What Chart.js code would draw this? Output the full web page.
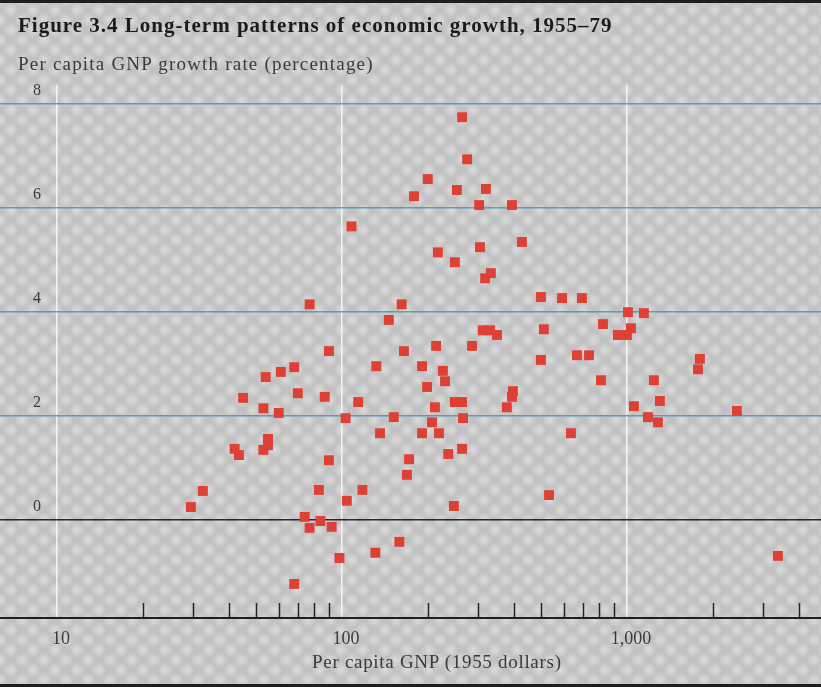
<!DOCTYPE html>
<html>
<head>
<meta charset="utf-8">
<script src="https://cdn.jsdelivr.net/npm/chart.js@4.4.0/dist/chart.umd.min.js"></script>
<style>
html,body{margin:0;padding:0;}
body{width:821px;height:687px;position:relative;overflow:hidden;
  background-color:#c1c1c1;
  background-image:
    radial-gradient(circle at center, rgba(255,255,255,0.42) 0, rgba(255,255,255,0) 8px),
    radial-gradient(circle at center, rgba(255,255,255,0.42) 0, rgba(255,255,255,0) 8px);
  background-size:22px 20px;
  background-position:0 0, 11px 10px;}
#wrap{position:absolute;left:0;top:0;width:821px;height:687px;}
.t{position:absolute;font-family:"Liberation Serif",serif;white-space:nowrap;}
#title{left:18px;top:15px;font-size:21px;line-height:21px;font-weight:bold;letter-spacing:1px;color:#1b1b1b;}
#sub{left:18px;top:54px;font-size:19px;line-height:19px;letter-spacing:1.2px;color:#3a3a3a;}
#xtitle{left:312px;top:652px;font-size:19px;line-height:19px;letter-spacing:0.7px;color:#3a3a3a;}
.bar{position:absolute;left:0;width:821px;background:#1e1e1e;}
</style>
</head>
<body>
<div id="wrap"><canvas id="c"></canvas></div>
<div class="bar" style="top:0;height:3px;"></div>
<div class="bar" style="top:684px;height:3px;"></div>
<div class="t" id="title">Figure 3.4 Long-term patterns of economic growth, 1955–79</div>
<div class="t" id="sub">Per capita GNP growth rate (percentage)</div>
<div class="t" id="xtitle">Per capita GNP (1955 dollars)</div>
<script>
// Data
const gnpPerCapita = [29.5, 32.5, 42, 43.5, 45, 53, 54, 53, 55, 55, 60, 61, 68, 70, 74, 77, 77, 83, 84, 87,
  90, 90, 92, 98, 103, 104, 108, 114, 118, 131, 132, 136, 146, 152, 159, 162, 165, 169, 172, 179,
  191, 191, 199, 200, 207, 212, 214, 217, 219, 226, 230, 236, 247, 249, 249, 253, 264, 264, 264, 266,
  275, 286, 303, 305, 312, 318, 320, 331, 333, 350, 379, 395, 395, 398, 428, 499, 499, 511, 533, 592,
  636, 668, 695, 736, 811, 824, 930, 1000, 1008, 1033, 1058, 1147, 1185, 1243, 1285, 1305, 1775, 1804, 2432, 3386, 68];
const growthRate = [0.25, 0.56, 1.37, 1.25, 2.35, 2.15, 2.75, 1.35, 1.44, 1.56, 2.06, 2.85, 2.94, 2.44, 0.06, -0.15, 4.15, 0.58, -0.02, 2.37,
  1.15, 3.25, -0.13, -0.73, 1.96, 0.37, 5.65, 2.27, 0.58, -0.63, 2.96, 1.67, 3.85, 1.98, -0.42, 4.15, 3.25, 0.87, 1.17, 6.23,
  1.67, 2.96, 2.56, 6.56, 1.88, 2.17, 3.35, 5.15, 1.67, 2.87, 2.67, 1.27, 0.27, 4.96, 2.27, 6.35, 7.75, 2.27, 1.37, 1.96,
  6.94, 3.35, 6.06, 5.25, 3.65, 4.65, 6.37, 3.65, 4.75, 3.56, 2.17, 2.37, 6.06, 2.48, 5.35, 4.29, 3.08, 3.67, 0.48, 4.27,
  1.67, 3.17, 4.27, 3.17, 2.69, 3.77, 3.56, 3.56, 4.0, 3.69, 2.19, 3.98, 1.98, 2.69, 1.88, 2.29, 2.90, 3.10, 2.10, -0.69, -1.23];
const xTickValues = [10, 20, 30, 40, 50, 60, 70, 80, 90, 100, 200, 300, 400, 500, 600, 700, 800, 900, 1000, 2000, 3000, 4000];
const xTickLabels = {10: '10', 100: '100', 1000: '1,000'};
const yTickValues = [0, 2, 4, 6, 8];

const points = gnpPerCapita.map((x, i) => ({x: x, y: growthRate[i]}));

const minorTicks = {
  id: 'minorTicks',
  beforeDatasetsDraw(chart) {
    const xs = chart.scales.x, ctx = chart.ctx, b = chart.chartArea.bottom;
    ctx.save();
    ctx.strokeStyle = '#222';
    ctx.lineWidth = 1.5;
    xTickValues.forEach(v => {
      if (xTickLabels[v]) return;
      const px = Math.round(xs.getPixelForValue(v)) + 0.5;
      ctx.beginPath();
      ctx.moveTo(px, b);
      ctx.lineTo(px, b - 15);
      ctx.stroke();
    });
    ctx.restore();
  }
};

const serif = '"Liberation Serif", serif';
new Chart(document.getElementById('c'), {
  type: 'scatter',
  data: {datasets: [{
    data: points,
    pointStyle: 'rect',
    pointRadius: 7,
    pointHoverRadius: 7,
    backgroundColor: '#de4036',
    borderWidth: 0
  }]},
  options: {
    responsive: true,
    maintainAspectRatio: false,
    animation: false,
    events: [],
    layout: {autoPadding: false, padding: {top: 85, left: 0, right: 0, bottom: 0}},
    plugins: {legend: {display: false}, tooltip: {enabled: false}, title: {display: false}},
    scales: {
      x: {
        type: 'logarithmic',
        position: 'bottom',
        min: 6.31,
        max: 4797,
        afterBuildTicks: s => { s.ticks = xTickValues.map(v => ({value: v})); },
        afterFit: s => { s.height = 69; },
        grid: {
          drawTicks: false,
          lineWidth: 1.5,
          color: c => (c.tick && xTickLabels[c.tick.value]) ? 'rgba(246,246,246,0.95)' : 'rgba(0,0,0,0)'
        },
        border: {display: true, color: '#1e1e1e', width: 2},
        ticks: {
          autoSkip: false, maxRotation: 0, padding: 10, labelOffset: 4,
          font: {family: serif, size: 18}, color: '#3a3a3a',
          callback: v => xTickLabels[v] || ''
        }
      },
      y: {
        type: 'linear',
        min: -1.885,
        max: 8.37,
        afterBuildTicks: s => { s.ticks = yTickValues.map(v => ({value: v})); },
        afterFit: s => { s.width = 0; },
        grid: {
          drawTicks: false,
          lineWidth: 1.5,
          color: c => (c.tick && c.tick.value === 0) ? '#262626' : '#5b9db8'
        },
        border: {display: false},
        ticks: {
          mirror: true, padding: 33, labelOffset: -13,
          font: {family: serif, size: 16}, color: '#3a3a3a'
        }
      }
    }
  },
  plugins: [minorTicks]
});
</script>
</body>
</html>
